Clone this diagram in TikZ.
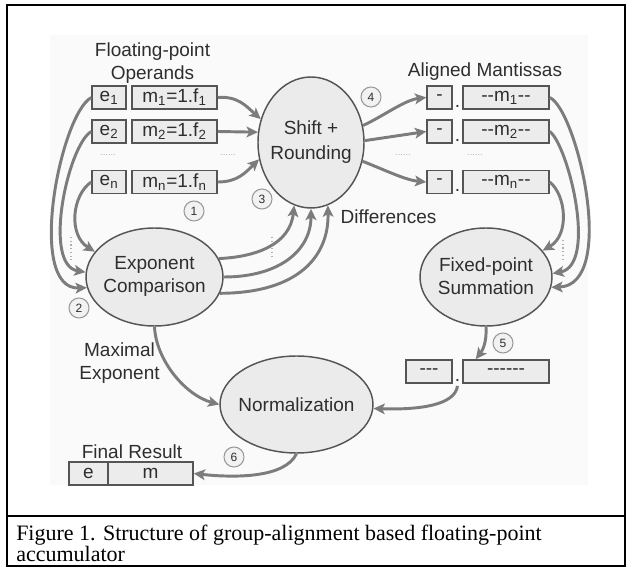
\documentclass[tikz,border=0pt]{standalone}
\usepackage{fontspec}
\setmainfont{Liberation Sans}
\newfontfamily\capfont{Liberation Serif}
\usetikzlibrary{arrows.meta,shapes.geometric}
\definecolor{arrc}{HTML}{7C7C7C}
\definecolor{bdc}{HTML}{555555}
\definecolor{boxf}{HTML}{ECECEC}
\definecolor{ellf}{HTML}{EBEBEB}
\definecolor{txtc}{HTML}{2E2E2E}
\definecolor{bgc}{HTML}{FAFAFA}
\definecolor{dotc}{HTML}{B0B0B0}
\definecolor{numf}{HTML}{F2F2F2}
\definecolor{numd}{HTML}{9A9A9A}
\newcommand\hy{\mbox{-}}
\begin{document}
\begin{tikzpicture}[x=0.75pt,y=-0.75pt,
  every node/.style={text=txtc, font=\fontsize{14.25}{17.25}\selectfont},
  reg/.style={draw=bdc, fill=boxf, line width=1.1pt, minimum height=17.25pt, inner sep=0pt},
  proc/.style={ellipse, draw=bdc, fill=ellf, line width=1.1pt, inner sep=0pt},
  arr/.style={draw=arrc, line width=2.2pt, -{Stealth[length=8.5pt,width=8pt,inset=2pt]}},
  num/.style={circle, draw=numd, fill=numf, line width=0.8pt, minimum size=15pt, inner sep=0pt, font=\fontsize{9}{9}\selectfont},
  lbl/.style={inner sep=0pt, align=center},
  gap/.style={inner sep=0pt, text=dotc, font=\fontsize{7}{7}\selectfont},
  dotl/.style={draw=dotc, line width=0.8pt, dotted},
  frame/.style={line width=1.5pt, draw=black},
  captxt/.style={anchor=base west, inner sep=0pt, text=black, font=\capfont\fontsize{16.5}{16.5}\selectfont}
]
\useasboundingbox (0,0) rectangle (626,567);
\fill[white] (0,0) rectangle (626,567);
\fill[bgc] (50,35) rectangle (588,485);
% frame
\draw[frame] (7,5) rectangle (625,566);
\draw[frame] (7,516) -- (625,516);
\node[captxt] (cap1) at (16,540) {Figure 1. Structure of group-alignment based floating-point};
\node[captxt] (cap2) at (16,561) {accumulator};

% ellipses
\node[proc, minimum width=79.5pt, minimum height=98.25pt] (sr) at (311,142.5) {};
\node[lbl] (srt) at (311,142.5) {Shift +\\[1.5pt]Rounding};
\node[proc, minimum width=102.75pt, minimum height=73.5pt] (ec) at (154.5,277) {};
\node[lbl] (ect) at (154.5,276) {Exponent\\Comparison};
\node[proc, minimum width=99pt, minimum height=73.5pt] (fs) at (486,277) {};
\node[lbl] (fst) at (486,276) {Fixed-point\\Summation};
\node[proc, minimum width=114.75pt, minimum height=72.75pt] (nz) at (296.5,404.5) {};
\node[lbl] (nzt) at (296.5,404.5) {Normalization};

% operands
\node[lbl] (fpo) at (152.5,63.5) {Floating-point\\Operands};
\node[reg, minimum width=25.5pt] (e1) at (109,97.5) {e\textsubscript{1}};
\node[reg, minimum width=63.75pt] (m1) at (174.5,97.5) {m\textsubscript{1}=1.f\textsubscript{1}};
\node[reg, minimum width=25.5pt] (e2) at (109,131.5) {e\textsubscript{2}};
\node[reg, minimum width=63.75pt] (m2) at (174.5,131.5) {m\textsubscript{2}=1.f\textsubscript{2}};
\node[reg, minimum width=25.5pt] (en) at (109,182) {e\textsubscript{n}};
\node[reg, minimum width=63.75pt] (mn) at (174.5,182) {m\textsubscript{n}=1.f\textsubscript{n}};
\node[gap] (g1) at (108,155) {......};
\node[gap] (g2) at (228,155) {......};

% aligned mantissas
\node[lbl] (alm) at (485,72) {Aligned Mantissas};
\node[reg, minimum width=18.75pt] (d1) at (439.5,97.5) {-};
\node[lbl] (p1) at (457.5,106) {.};
\node[reg, minimum width=64.5pt] (a1) at (506,97.5) {\hy\hy m\textsubscript{1}\hy\hy};
\node[reg, minimum width=18.75pt] (d2) at (439.5,131.5) {-};
\node[lbl] (p2) at (457.5,140) {.};
\node[reg, minimum width=64.5pt] (a2) at (506,131.5) {\hy\hy m\textsubscript{2}\hy\hy};
\node[reg, minimum width=18.75pt] (dn) at (439.5,182) {-};
\node[lbl] (pn) at (457.5,190.5) {.};
\node[reg, minimum width=64.5pt] (an) at (506,182) {\hy\hy m\textsubscript{n}\hy\hy};
\node[gap] (g3) at (403,155) {......};
\node[gap] (g4) at (475,155) {......};

% sum result
\node[reg, minimum width=34.5pt] (b1) at (429,371.5) {\hy\hy\hy};
\node[lbl] (pb) at (457.5,380) {.};
\node[reg, minimum width=64.5pt] (b2) at (506,371.5) {\hy\hy\hy\hy\hy\hy};
\coordinate (pbs) at (457.5,386);

% final result
\node[lbl] (frl) at (132,452) {Final Result};
\node[reg, minimum width=29.25pt] (fe) at (88.5,473.5) {e};
\node[reg, minimum width=63.75pt] (fm) at (150.5,473.5) {m};

% labels
\node[lbl] (diff) at (388.5,217) {Differences};
\node[lbl] (mxe) at (119.5,363) {Maximal\\Exponent};

% numbers
\node[num] (n1) at (194,211) {1};
\node[num] (n2) at (79,308) {2};
\node[num] (n3) at (262,199) {3};
\node[num] (n4) at (371,97) {4};
\node[num] (n5) at (503,343) {5};
\node[num] (n6) at (234,457) {6};

% dotted marks
\draw[dotl] (71,237) -- (71,260);
\draw[dotl] (272,237) -- (272,258);
\draw[dotl] (563,240) -- (563,262);

% operands -> shift
\draw[arr] (m1.east) .. controls (238,96) and (246,106) .. (sr.155);
\draw[arr] (m2.east) -- (sr.169);
\draw[arr] (mn.east) .. controls (238,182) and (246,172) .. (sr.198);
% shift -> aligned
\draw[arr] (sr.18) .. controls (385,115) and (405,100) .. (d1.west);
\draw[arr] (sr.2) -- (d2.west);
\draw[arr] (sr.340) .. controls (385,170) and (405,180) .. (dn.west);
% exponents -> comparison
\draw[arr] (e1.west) .. controls (60,115) and (26,290) .. (ec.189);
\draw[arr] (e2.west) .. controls (68,145) and (42,265) .. (ec.176);
\draw[arr] (en.west) .. controls (72,195) and (68,235) .. (ec.157);
% comparison -> shift
\draw[arr] (ec.16) .. controls (255,257) and (290,245) .. (sr.255);
\draw[arr] (ec.0) .. controls (280,277) and (311,250) .. (sr.270);
\draw[arr] (ec.346) .. controls (300,293) and (329,255) .. (sr.285);
% aligned -> summation
\draw[arr] (a1.east) .. controls (577,110) and (618,285) .. (fs.351);
\draw[arr] (a2.east) .. controls (568,145) and (598,265) .. (fs.3);
\draw[arr] (an.east) .. controls (566,195) and (570,235) .. (fs.25);
% summation -> result
\draw[arr] (fs.270) .. controls (487,343) and (482,351) .. (b2.158);
% -> normalization
\draw[arr] (ec.270) .. controls (156,360) and (185,395) .. (nz.180);
\draw[arr] (pbs) .. controls (455,405) and (420,410) .. (nz.357);
% normalization -> final
\draw[arr] (nz.270) .. controls (285,478) and (235,478) .. (fm.east);
\end{tikzpicture}
\end{document}
